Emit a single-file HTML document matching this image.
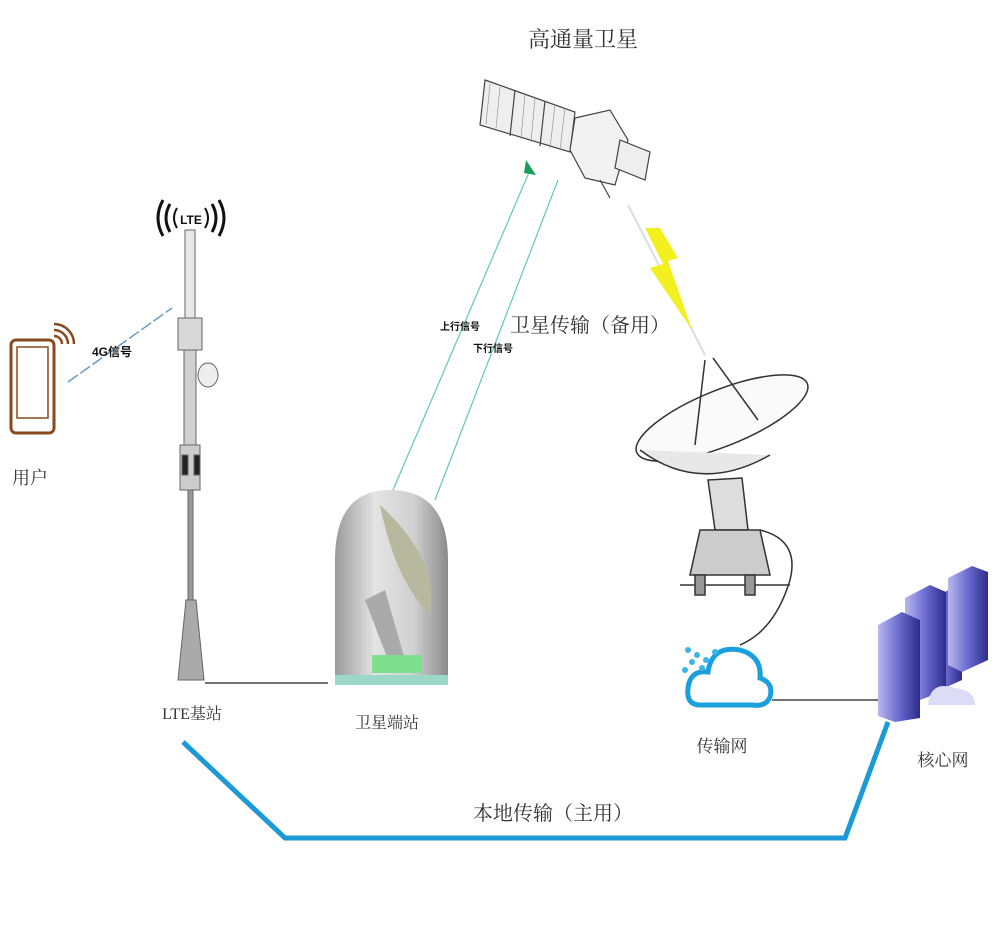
<!DOCTYPE html>
<html><head><meta charset="utf-8"><style>
html,body{margin:0;padding:0;background:#fff;}
svg{display:block;}
text{font-family:"Liberation Serif","Noto Serif CJK SC","Noto Sans CJK SC",serif;fill:#333;}
.b{font-family:"Liberation Sans","Noto Sans CJK SC",sans-serif;font-weight:bold;fill:#111;}
</style></head><body>
<svg width="1000" height="929" viewBox="0 0 1000 929" xmlns="http://www.w3.org/2000/svg">
<defs>
<linearGradient id="dome" x1="0" x2="1"><stop offset="0" stop-color="#9a9a9a"/><stop offset=".35" stop-color="#e4e4e4"/><stop offset=".7" stop-color="#d0d0d0"/><stop offset="1" stop-color="#8a8a8a"/></linearGradient>
<linearGradient id="srv" x1="0" x2="1"><stop offset="0" stop-color="#b8b8ee"/><stop offset=".5" stop-color="#6a6ad0"/><stop offset="1" stop-color="#2c2c8a"/></linearGradient>
</defs>
<text x="583" y="47" font-size="22" text-anchor="middle">高通量卫星</text>
<g stroke="#444" stroke-width="1.2" fill="#eee">
<polygon points="485,80 575,112 570,152 480,125"/>
<line x1="515" y1="90" x2="510" y2="136"/><line x1="545" y1="101" x2="540" y2="146"/>
<polygon points="575,118 610,110 628,140 615,185 585,178 570,150" fill="#f2f2f2"/>
<polygon points="620,140 650,152 645,180 615,168"/>
<line x1="600" y1="180" x2="610" y2="198"/>
</g>
<g stroke="#888" stroke-width=".6">
<line x1="490" y1="84" x2="486" y2="124"/><line x1="500" y1="87" x2="496" y2="128"/><line x1="525" y1="94" x2="521" y2="139"/><line x1="535" y1="98" x2="531" y2="142"/><line x1="555" y1="105" x2="550" y2="148"/><line x1="565" y1="108" x2="560" y2="150"/>
</g>
<line x1="390" y1="497" x2="530" y2="170" stroke="#5fc8b8" stroke-width="1.2"/>
<polygon points="526,160 536,175 524,173" fill="#17a05a"/>
<line x1="435" y1="500" x2="558" y2="180" stroke="#5fc8b8" stroke-width="1.2"/>
<text class="b" x="440" y="330" font-size="10">上行信号</text>
<text class="b" x="473" y="352" font-size="10">下行信号</text>
<text x="590" y="332" font-size="20" text-anchor="middle">卫星传输（备用）</text>
<line x1="628" y1="205" x2="705" y2="355" stroke="#ddd" stroke-width="2"/>
<polygon points="645,228 660,228 678,258 668,261 692,330 650,268 663,264" fill="#f3f020"/>
<g stroke="#333" stroke-width="1.5" fill="none">
<ellipse cx="722" cy="418" rx="92" ry="28" transform="rotate(-22 722 418)" fill="#fafafa"/>
<path d="M640,450 Q700,495 770,455" fill="#e8e8e8"/>
<line x1="705" y1="360" x2="695" y2="445"/><line x1="713" y1="358" x2="758" y2="420"/>
<path d="M708,480 L742,478 L748,530 L715,530 Z" fill="#ddd"/>
<path d="M700,530 L760,530 L770,575 L690,575 Z" fill="#ccc"/>
<line x1="680" y1="585" x2="790" y2="585"/>
<rect x="695" y="575" width="10" height="20" fill="#999"/><rect x="745" y="575" width="10" height="20" fill="#999"/>
<path d="M760,530 Q800,540 790,580 Q775,630 740,645" stroke-width="1.5"/>
</g>
<path d="M700,705 Q686,705 688,688 Q690,670 708,672 Q712,645 740,650 Q762,656 760,678 Q774,683 770,697 Q766,707 752,705 Z" fill="none" stroke="#1ba0de" stroke-width="5"/>
<g fill="#3bb4e6"><circle cx="688" cy="650" r="3"/><circle cx="697" cy="655" r="3"/><circle cx="706" cy="660" r="3"/><circle cx="692" cy="662" r="3"/><circle cx="702" cy="668" r="3"/><circle cx="685" cy="670" r="3"/><circle cx="715" cy="652" r="3"/></g>
<line x1="772" y1="700" x2="880" y2="700" stroke="#444" stroke-width="1.5"/>
<text x="722" y="752" font-size="17" text-anchor="middle">传输网</text>
<polygon points="930,600 952,588 962,592 962,680 940,690 930,686" fill="url(#srv)"/>
<polygon points="948,578 972,566 988,572 988,660 962,672 948,665" fill="url(#srv)"/>
<polygon points="905,598 930,585 946,592 946,690 920,700 905,694" fill="url(#srv)"/>
<polygon points="878,625 902,612 920,620 920,718 895,722 878,716" fill="url(#srv)"/>
<path d="M928,705 Q930,680 955,688 Q975,690 975,705 Z" fill="#dcdcf6"/>
<text x="943" y="766" font-size="17" text-anchor="middle">核心网</text>
<polyline points="183,742 285,838 845,838 888,722" fill="none" stroke="#1b9ad6" stroke-width="5"/>
<text x="553" y="820" font-size="20" text-anchor="middle">本地传输（主用）</text>
<g stroke="#666" stroke-width="1">
<rect x="185" y="230" width="10" height="90" fill="#e8e8e8"/>
<rect x="178" y="318" width="24" height="32" fill="#d8d8d8"/>
<rect x="184" y="350" width="12" height="100" fill="#d0d0d0"/>
<ellipse cx="208" cy="375" rx="10" ry="12" fill="#eee"/>
<rect x="180" y="445" width="20" height="45" fill="#ccc"/>
<rect x="182" y="455" width="6" height="20" fill="#222"/><rect x="194" y="455" width="6" height="20" fill="#222"/>
<rect x="188" y="490" width="5" height="110" fill="#999"/>
<polygon points="186,600 196,600 204,680 178,680" fill="#aaa"/>
</g>
<text class="b" x="191" y="224" font-size="12" text-anchor="middle">LTE</text>
<path d="M177,208 Q171,218 177,228 M205,208 Q211,218 205,228" stroke="#111" stroke-width="2" fill="none"/>
<path d="M170,204 Q162,218 170,232 M212,204 Q220,218 212,232 M163,200 Q153,218 163,236 M219,200 Q229,218 219,236" stroke="#111" stroke-width="3" fill="none"/>
<line x1="205" y1="683" x2="328" y2="683" stroke="#444" stroke-width="1.5"/>
<text x="192" y="719" font-size="16" text-anchor="middle">LTE基站</text>
<path d="M335,685 L335,560 Q335,490 390,490 Q448,490 448,560 L448,685 Z" fill="url(#dome)"/>
<path d="M380,505 Q440,560 430,615 Q395,580 380,505 Z" fill="#b8b89e"/>
<polygon points="365,600 385,590 405,660 390,665" fill="#aaa"/>
<rect x="372" y="655" width="50" height="18" fill="#7ee08f"/>
<rect x="335" y="675" width="113" height="10" fill="#9bd8c8"/>
<text x="387" y="728" font-size="16" text-anchor="middle">卫星端站</text>
<rect x="11" y="340" width="43" height="93" rx="5" fill="none" stroke="#8b4a1e" stroke-width="3"/>
<rect x="17" y="347" width="31" height="71" fill="none" stroke="#8b4a1e" stroke-width="1.5"/>
<path d="M54,336 a8,8 0 0,1 8,8 M54,330 a14,14 0 0,1 14,14 M54,324 a20,20 0 0,1 20,20" stroke="#8b4a1e" stroke-width="2.5" fill="none"/>
<line x1="68" y1="382" x2="172" y2="308" stroke="#6a9ac0" stroke-width="1.5" stroke-dasharray="12,3"/>
<text class="b" x="112" y="356" font-size="12" text-anchor="middle">4G信号</text>
<text x="30" y="484" font-size="18" text-anchor="middle">用户</text>
</svg>
</body></html>
